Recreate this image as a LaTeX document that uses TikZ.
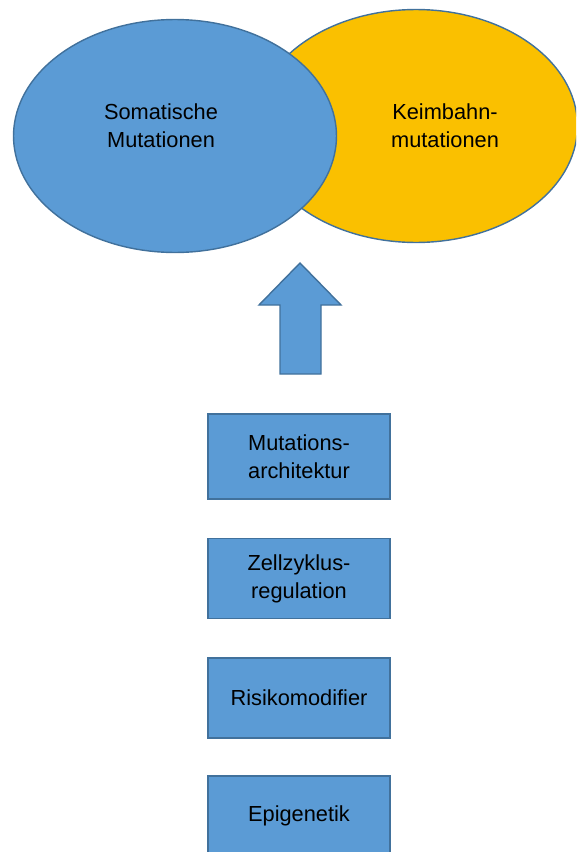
\documentclass[tikz,border=0pt]{standalone}
\usepackage{fontspec}
\setmainfont{Liberation Sans}
\usetikzlibrary{shapes.geometric}
\definecolor{boxblue}{HTML}{5B9BD5}
\definecolor{edgeblue}{HTML}{41719C}
\definecolor{gold}{HTML}{FAC000}
\tikzset{%
  base/.style={draw=edgeblue,line width=0.8pt,align=center,
    font=\fontsize{12.4}{16}\selectfont,inner sep=0pt},
  oval/.style={base,ellipse,minimum width=6.46cm,minimum height=4.66cm},
  oval text/.style={align=center,font=\fontsize{12.4}{16}\selectfont,
    inner sep=0pt},
  factor/.style={base,fill=boxblue,rectangle,minimum width=3.64cm,
    minimum height=1.6cm}%
}
\begin{document}
\begin{tikzpicture}[x=0.02cm,y=-0.02cm]

%% frame of the page
\useasboundingbox (0,0) rectangle (576,852);
\clip (0,0) rectangle (576,852);

%% the two kinds of mutations
\node[oval,fill=gold] (keim) at (416,126) {};
\node[oval,fill=boxblue] (soma) at (175,136) {};
\node[oval text] (keimtext) at (445,126) {Keimbahn-\\mutationen};
\node[oval text] (somatext) at (161,126) {Somatische\\Mutationen};

%% block arrow
\coordinate (tip) at (300,263);
\fill[boxblue,draw=edgeblue,line width=0.8pt,line join=miter]
  (tip) -- (341,305) -- (321,305) -- (321,374) -- (280,374)
  -- (280,305) -- (259,305) -- cycle;

%% factors
\node[factor,minimum height=1.7cm] (arch) at (299,456.5) {Mutations-\\architektur};
\node[factor] (zyklus) at (299,578.5) {Zellzyklus-\\regulation};
\node[factor] (risiko) at (299,698) {Risikomodifier};
\node[factor] (epi) at (299,816) {Epigenetik};

\end{tikzpicture}
\end{document}
